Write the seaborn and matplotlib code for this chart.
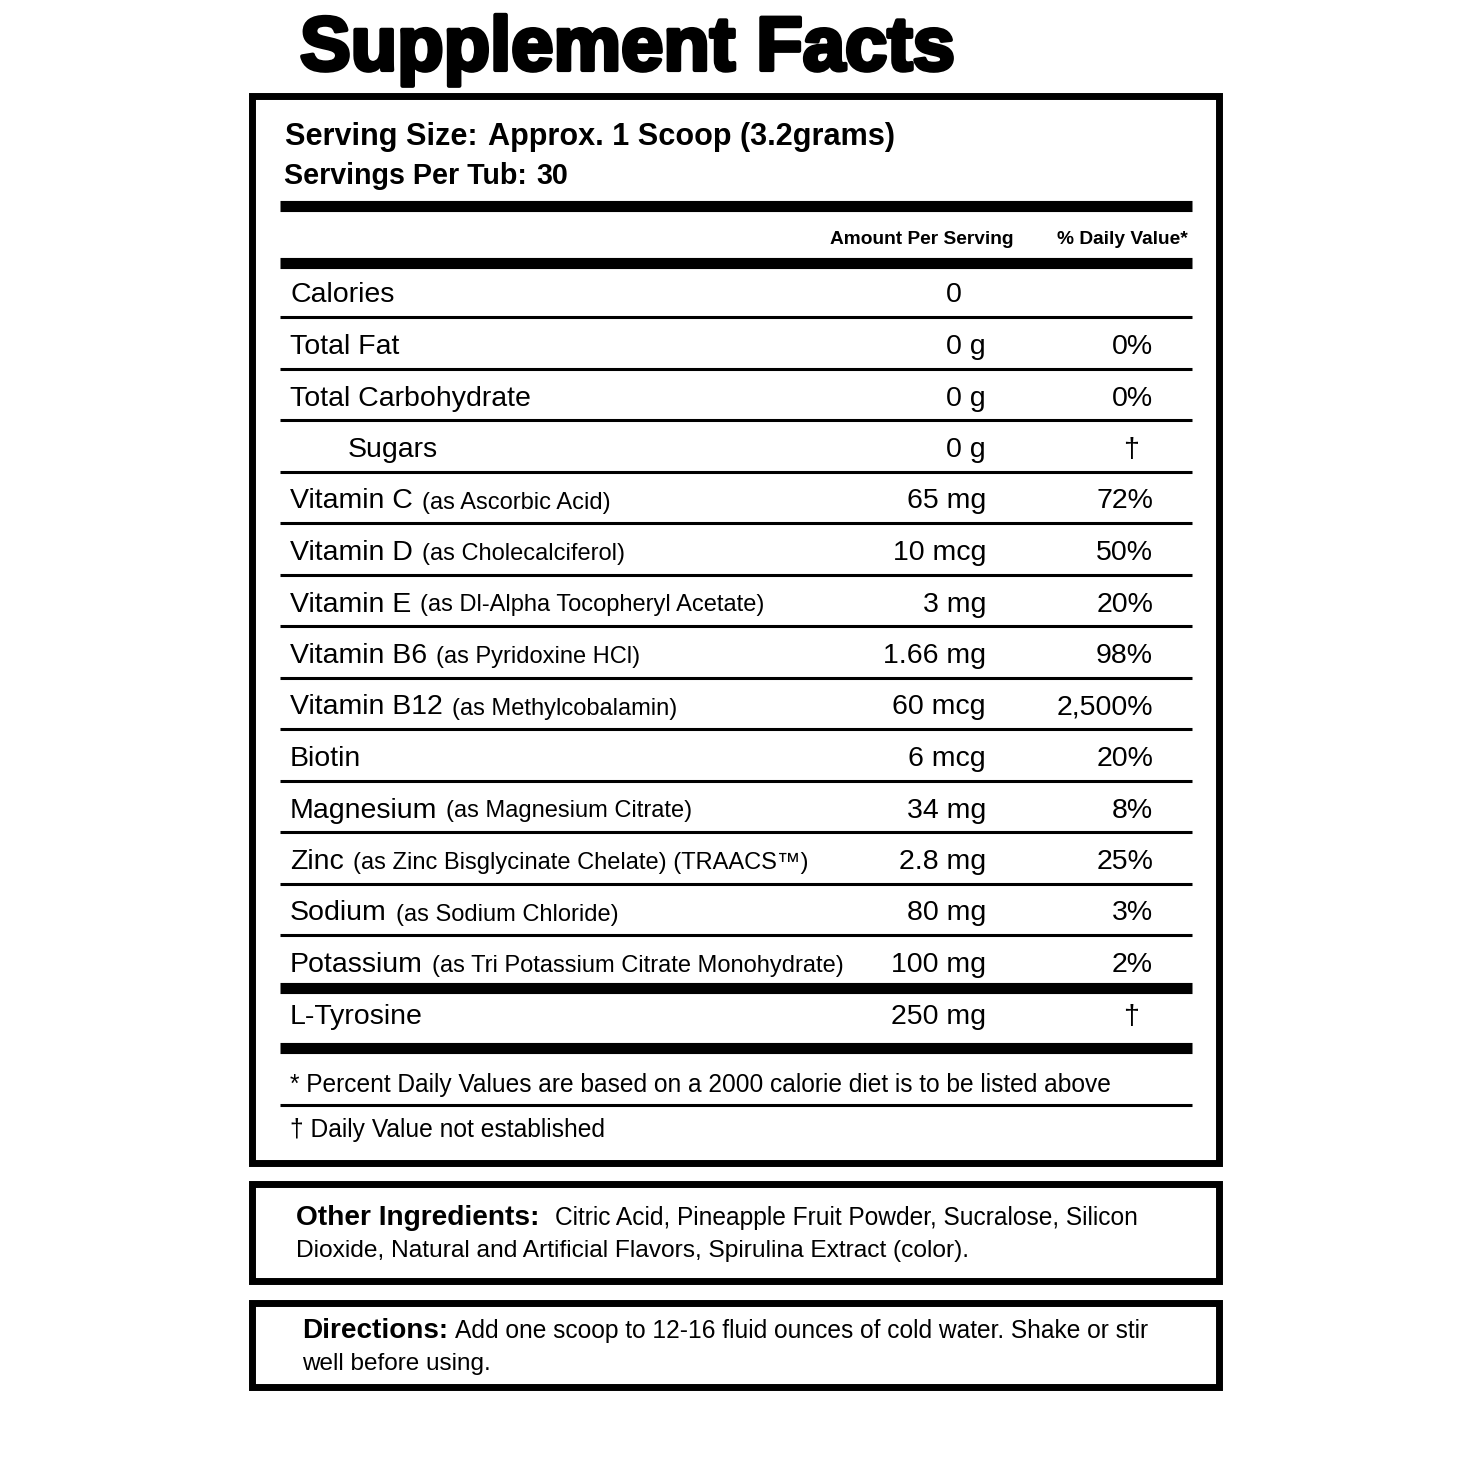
import matplotlib
matplotlib.use("Agg")
import matplotlib.pyplot as plt
import matplotlib.patheffects as pe
from matplotlib import font_manager
from matplotlib.patches import Rectangle
import pandas as pd
import seaborn as sns

# label content
title = "Supplement Facts"
serving_size = "Approx. 1 Scoop (3.2grams)"
servings_per_tub = "30"
col_headers = ["Amount Per Serving", "% Daily Value*"]

nutrients = ["Calories", "Total Fat", "Total Carbohydrate", "Sugars", "Vitamin C",
             "Vitamin D", "Vitamin E", "Vitamin B6", "Vitamin B12", "Biotin",
             "Magnesium", "Zinc", "Sodium", "Potassium", "L-Tyrosine"]
sources = ["", "", "", "", "(as Ascorbic Acid)", "(as Cholecalciferol)",
           "(as Dl-Alpha Tocopheryl Acetate)", "(as Pyridoxine HCl)",
           "(as Methylcobalamin)", "", "(as Magnesium Citrate)",
           "(as Zinc Bisglycinate Chelate) (TRAACS\u2122)", "(as Sodium Chloride)",
           "(as Tri Potassium Citrate Monohydrate)", ""]
amounts = ["0", "0 g", "0 g", "0 g", "65 mg", "10 mcg", "3 mg", "1.66 mg", "60 mcg",
           "6 mcg", "34 mg", "2.8 mg", "80 mg", "100 mg", "250 mg"]
daily_values = ["", "0%", "0%", "\u2020", "72%", "50%", "20%", "98%", "2,500%", "20%",
                "8%", "25%", "3%", "2%", "\u2020"]
sub_items = ["Sugars"]

footnotes = ["* Percent Daily Values are based on a 2000 calorie diet is to be listed above",
             "\u2020 Daily Value not established"]
other_ingredients = ["Citric Acid, Pineapple Fruit Powder, Sucralose, Silicon",
                     "Dioxide, Natural and Artificial Flavors, Spirulina Extract (color)."]
directions = ["Add one scoop to 12-16 fluid ounces of cold water. Shake or stir",
              "well before using."]

df = pd.DataFrame({"nutrient": nutrients, "source": sources,
                   "amount": amounts, "dv": daily_values})

sns.set_theme(style="white")
names = {f.name for f in font_manager.fontManager.ttflist}
REG = "Liberation Sans" if "Liberation Sans" in names else "DejaVu Sans"
NAR = "Liberation Sans Narrow" if "Liberation Sans Narrow" in names else REG
plt.rcParams["font.family"] = [REG, "DejaVu Sans"]

fig = plt.figure(figsize=(14.6, 14.6), dpi=100)
ax = fig.add_axes([0, 0, 1, 1])
ax.set_xlim(0, 1460)
ax.set_ylim(1460, 0)
ax.axis("off")
rend = fig.canvas.get_renderer()


def put(x, y, s, size=20.5, weight="normal", fam=None, ha="left", width=None):
    t = ax.text(x, y, s, fontsize=size, fontweight=weight, color="black",
                family=[fam or REG, "DejaVu Sans"], ha=ha, va="baseline")
    if width:
        w = t.get_window_extent(rend).width
        t.set_fontsize(size * width / w)
    return t


def right_of(t):
    bb = t.get_window_extent(rend)
    return ax.transData.inverted().transform((bb.x1, bb.y0))[0]


def two_part(x, y, a, b, width, wa="bold", wb="bold", fam=None):
    # both parts share one size, fitted to the whole line width
    probe = put(x, y, a + " " + b, weight="bold", fam=fam, width=width)
    s = probe.get_fontsize()
    probe.remove()
    t = put(x, y, a, size=s, weight=wa, fam=fam)
    return put(right_of(t) + s * 0.45, y, b, size=s, weight=wb, fam=fam)


# title
t = put(300, 70, title, size=55, weight="bold", width=655)
t.set_path_effects([pe.withStroke(linewidth=3, foreground="black")])

# boxes
for y0, h in [(96, 1066.5), (1183.5, 97), (1303, 84)]:
    ax.add_patch(Rectangle((251.5, y0), 967, h, fill=False, lw=5, ec="black"))

X0, X1 = 280, 1192

# serving info
two_part(285, 145, "Serving Size:", serving_size, 608, fam=NAR)
two_part(284, 184, "Servings Per Tub:", servings_per_tub, 283, fam=NAR)

ax.hlines([206, 262.5], X0, X1, color="black", lw=8)
put(1013, 244, col_headers[0], weight="bold", fam=NAR, ha="right", width=184)
put(1188, 244, col_headers[1], weight="bold", fam=NAR, ha="right", width=131)

# nutrient rows
top, step = 265.5, 51.5
n = len(df)
row_lines = [top + step * (i + 1) for i in range(n - 1)]
for i, r in df.iterrows():
    base = 302 if i == 0 else row_lines[i - 1] + 37
    x = 348 if r.nutrient in sub_items else 290
    t = put(x, base, r.nutrient)
    if r.source:
        put(right_of(t) + 9, base, r.source, size=17)
    if " " in r.amount:
        put(986, base, r.amount, ha="right")
    else:
        put(954, base, r.amount, ha="center")
    if r.dv == "\u2020":
        put(1131, base, r.dv, ha="center")
    elif r.dv:
        put(1153, base, r.dv, ha="right")

ax.hlines(row_lines[:-1], X0, X1, color="black", lw=2.2)
ax.hlines([row_lines[-1] + 1.5, 1048], X0, X1, color="black", lw=8)

# footnotes
put(290, 1092, footnotes[0], fam=NAR, width=823)
ax.hlines(1105, X0, X1, color="black", lw=2.2)
put(290, 1137, footnotes[1], fam=NAR, width=315)

# other ingredients
put(296, 1225, "Other Ingredients:", weight="bold", fam=NAR, width=244)
put(555, 1225, other_ingredients[0], fam=NAR, width=584)
put(296, 1257, other_ingredients[1], fam=NAR, width=674)

# directions
put(302, 1338, "Directions:", weight="bold", fam=NAR, width=146)
put(455, 1338, directions[0], fam=NAR, width=695)
put(302, 1370, directions[1], fam=NAR, width=189)

fig.savefig("out.png", dpi=100, facecolor="white")
